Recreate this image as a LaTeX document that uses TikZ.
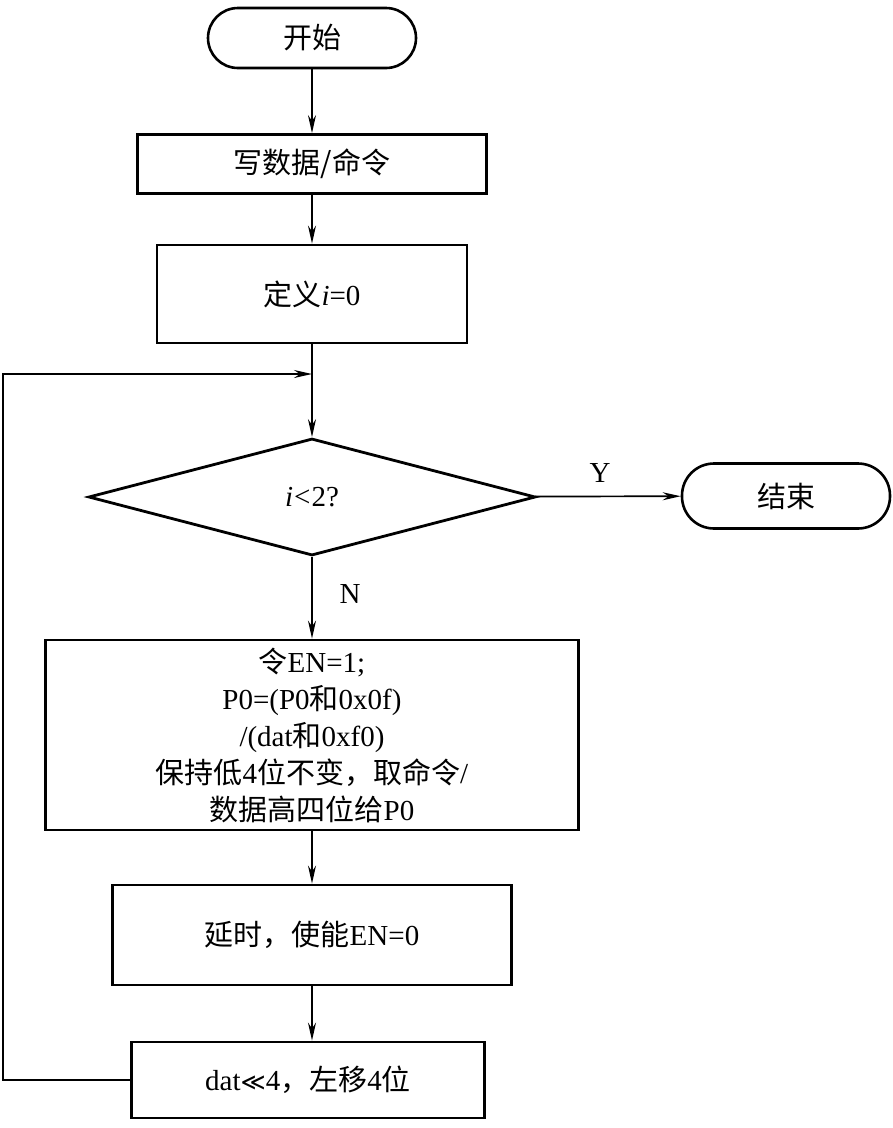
\documentclass[tikz,border=0pt]{standalone}
\usepackage{fontspec}
\setmainfont{Liberation Serif}
\newfontfamily\cjk{Noto Sans CJK SC}
\newfontfamily\symf{DejaVu Sans}
\usetikzlibrary{arrows.meta,shapes.geometric}
\begin{document}
\begin{tikzpicture}[x=1pt,y=-1pt,
  font=\fontsize{29}{37}\selectfont,
  box/.style={draw,line width=2.8pt,inner sep=0pt,align=center},
  term/.style={draw,line width=2.6pt,inner sep=0pt,rounded corners=30pt},
  dec/.style={draw,diamond,line width=2.8pt,inner sep=0pt,aspect=3.82},
  arr/.style={line width=1.7pt,-{Stealth[length=18pt,width=8pt]}},
  ln/.style={line width=1.7pt}]
\path[use as bounding box] (0,0) rectangle (893,1128);
\node[term,minimum width=208pt,minimum height=60pt] (start) at (312,38) {\cjk 开始};
\node[box,minimum width=349pt,minimum height=59pt] (write) at (312,164) {\cjk 写数据/命令};
\node[box,minimum width=310pt,minimum height=98pt] (init) at (312,294) {{\cjk 定义}\textit{i}=0};
\node[dec,minimum width=447pt,minimum height=117pt] (cond) at (312,497) {\textit{i}\kern1pt<\kern1pt2?};
\node[term,minimum width=208pt,minimum height=65pt,rounded corners=32pt] (end) at (786,496) {\cjk 结束};
\node[box,minimum width=533pt,minimum height=190pt] (en) at (312,735)
  {{\cjk 令}EN=1;\\P0=(P0{\cjk 和}0x0f)\\/(dat{\cjk 和}0xf0)\\{\cjk 保持低}4{\cjk 位不变，取命令}/\\{\cjk 数据高四位给}P0};
\node[box,minimum width=399pt,minimum height=100pt] (delay) at (312,935) {{\cjk 延时，使能}EN=0};
\node[box,minimum width=353pt,minimum height=76pt] (shift) at (308,1080) {dat{\symf\fontsize{24}{37}\selectfont ≪}4{\cjk ，左移}4{\cjk 位}};
\node (ylab) at (600,473) {Y};
\node (nlab) at (350,594) {N};
\coordinate (join) at (312,374);
\coordinate (lc) at (3,1080);
\draw[arr] (start) -- (write);
\draw[arr] (write) -- (init);
\draw[arr] (init) -- (cond);
\draw[arr] (cond) -- (end);
\draw[arr] (cond) -- (en);
\draw[arr] (en) -- (delay);
\draw[arr] (delay.south) -- (delay.south |- shift.north);
\draw[arr] (shift.west) -- (lc) |- (join);
\end{tikzpicture}
\end{document}
